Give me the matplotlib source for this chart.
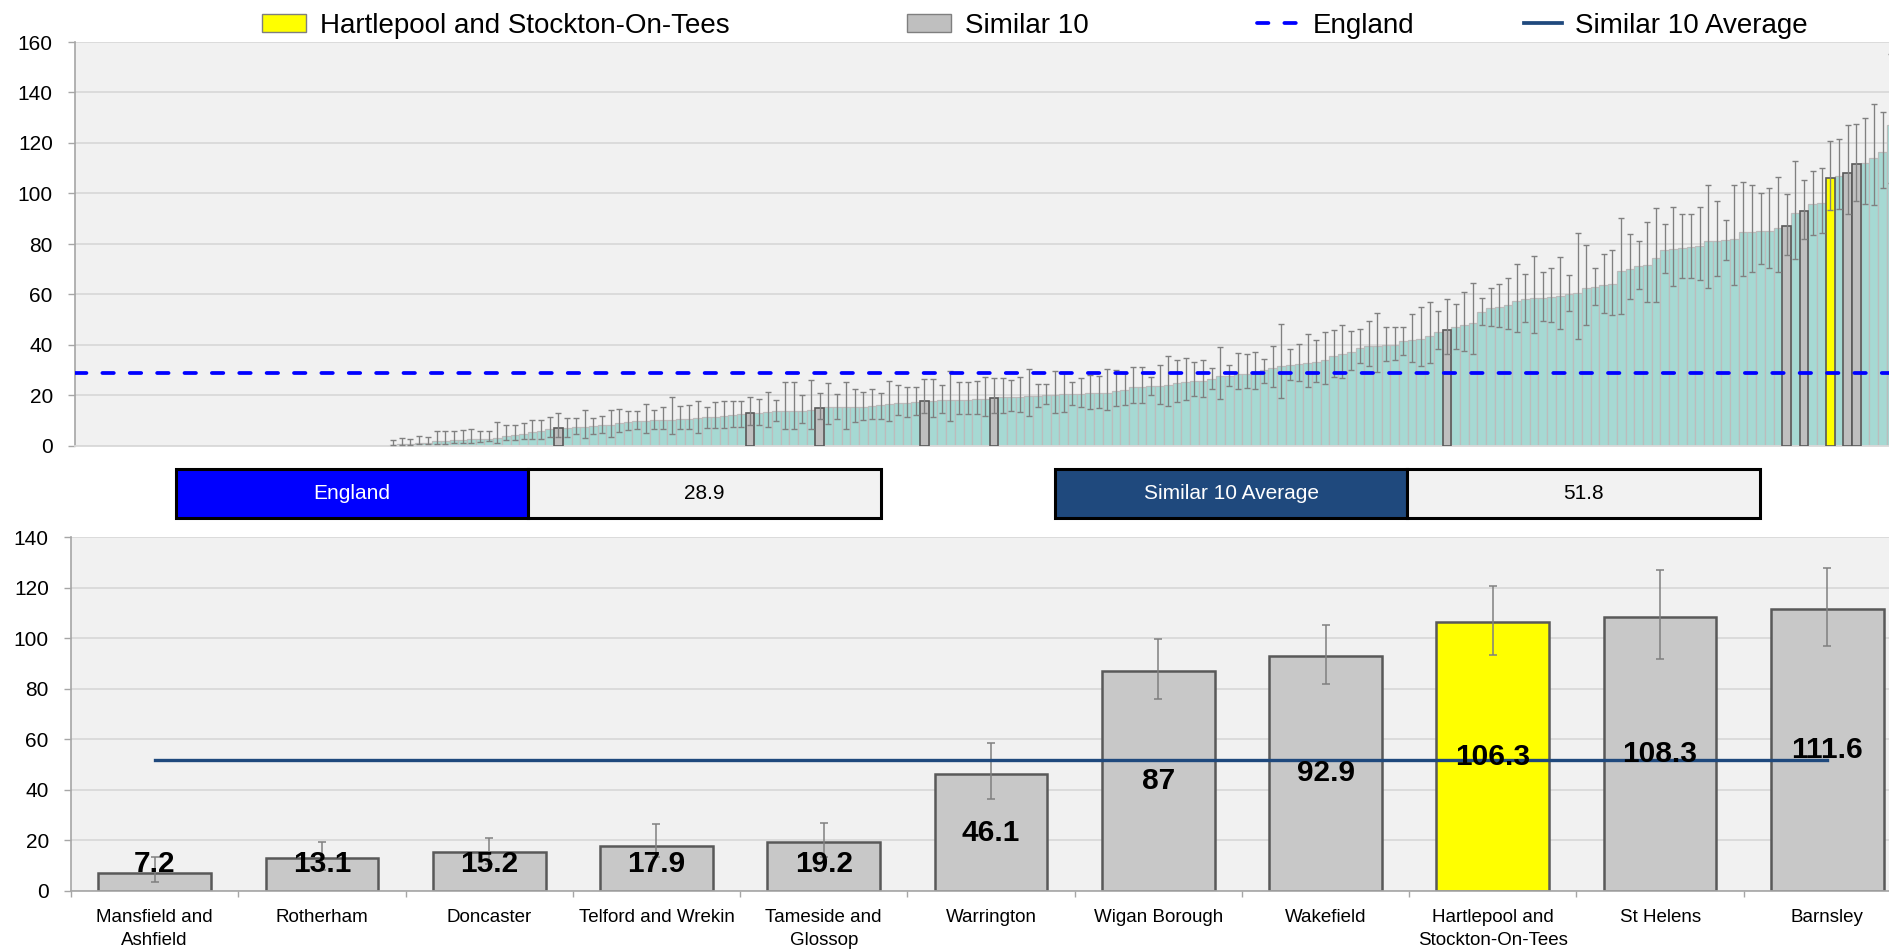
import numpy as np
import matplotlib
matplotlib.use("Agg")
import matplotlib.pyplot as plt
from matplotlib.patches import Rectangle, Patch
from matplotlib.lines import Line2D

plt.rcParams['font.family'] = ['Liberation Sans', 'DejaVu Sans']

# ---------------- data ----------------
host_name = "Hartlepool and Stockton-On-Tees"
england_value = 28.9
similar_avg = 51.8

similar_names = ["Mansfield and\nAshfield", "Rotherham", "Doncaster", "Telford and Wrekin",
                 "Tameside and\nGlossop", "Warrington", "Wigan Borough", "Wakefield",
                 "Hartlepool and\nStockton-On-Tees", "St Helens", "Barnsley"]
similar_values = [7.2, 13.1, 15.2, 17.9, 19.2, 46.1, 87, 92.9, 106.3, 108.3, 111.6]
similar_lower = [3.6, 8.3, 10.6, 13.2, 13.2, 36.3, 75.8, 81.8, 93.3, 91.7, 97.0]
similar_upper = [13.2, 19.4, 21.0, 26.5, 27.0, 58.4, 99.9, 105.2, 120.7, 127.0, 127.7]
host_value = 106.3

# all areas, ranked (0 = no value shown)
top_values = [
    0, 0, 0, 0, 0, 0, 0, 0, 0, 0, 0, 0, 0, 0, 0, 0, 0, 0,
    0, 0, 0, 0, 0, 0, 0, 0, 0, 0, 0, 0, 0, 0, 0, 0, 0, 0,
    0.5, 0.7, 0.8, 1.1, 1.2, 1.8, 2.1, 2.2, 2.5, 2.6,
    2.8, 2.9, 3.3, 4.1, 4.2, 4.9, 5.4, 6.1, 6.7, 7.2,
    7.3, 7.4, 7.7, 7.8, 8.2, 8.4, 9.0, 9.5, 9.8, 9.9,
    10.2, 10.3, 10.4, 10.6, 10.8, 11.2, 11.5, 11.6, 11.9, 12.3,
    12.5, 13.1, 13.2, 13.5, 13.7, 13.7, 13.8, 13.9, 14.1, 15.2,
    15.3, 15.4, 15.5, 15.5, 15.6, 15.8, 16.1, 16.5, 16.9, 17.1,
    17.5, 17.9, 18.0, 18.1, 18.2, 18.3, 18.4, 18.5, 18.6, 19.2,
    19.3, 19.4, 19.5, 19.7, 19.9, 20.2, 20.3, 20.4, 20.6, 20.7,
    20.8, 20.9, 21.1, 21.8, 22.0, 23.2, 23.5, 23.6, 23.7, 24.1,
    24.8, 25.5, 25.7, 25.8, 26.4, 27.6, 27.7, 28.5, 28.6, 29.0,
    30.1, 31.0, 31.7, 32.2, 32.6, 32.7, 33.2, 33.9, 35.6, 36.3,
    37.3, 39.0, 39.7, 39.8, 40.0, 40.1, 41.4, 41.9, 42.5, 43.7,
    45.2, 46.1, 47.0, 48.1, 48.8, 53.2, 54.5, 55.1, 55.8, 57.5,
    58.4, 58.7, 58.8, 59.1, 59.4, 60.2, 60.4, 62.4, 63.1, 63.7,
    64.0, 69.4, 70.2, 71.4, 71.6, 74.3, 77.8, 78.0, 78.5, 78.7,
    79.1, 81.0, 81.1, 81.4, 82.0, 84.6, 84.8, 85.2, 85.3, 86.3,
    87.0, 92.1, 92.9, 95.8, 96.4, 106.3, 107.0, 108.3, 111.6, 112.1,
    114.2, 116.5, 127.0, 135.0, 150.0]
top_upper = [
    0, 0, 0, 0, 0, 0, 0, 0, 0, 0, 0, 0, 0, 0, 0, 0, 0, 0,
    0, 0, 0, 0, 0, 0, 0, 0, 0, 0, 0, 0, 0, 0, 0, 0, 0, 0,
    2.4, 3.0, 2.6, 4.1, 3.6, 6.1, 6.1, 5.8, 6.3, 6.6,
    6.1, 6.1, 9.6, 8.2, 8.4, 9.2, 10.3, 10.3, 11.5, 13.2,
    11.1, 10.9, 14.1, 10.9, 11.9, 14.2, 14.8, 13.9, 13.9, 16.6,
    14.4, 15.6, 19.4, 15.7, 16.4, 17.8, 15.6, 17.3, 17.8, 17.7,
    17.7, 19.4, 18.7, 21.2, 18.3, 25.3, 25.3, 20.3, 26.0, 21.0,
    25.1, 20.7, 25.5, 22.4, 21.4, 22.4, 21.1, 25.9, 24.1, 23.5,
    23.2, 26.5, 26.4, 24.1, 29.8, 25.3, 25.5, 25.7, 27.4, 27.0,
    26.8, 26.2, 27.2, 30.5, 24.5, 24.4, 29.8, 28.8, 25.2, 26.8,
    28.1, 27.7, 30.3, 30.1, 28.8, 31.1, 31.4, 27.2, 32.2, 35.7,
    33.9, 34.8, 33.1, 34.2, 30.7, 39.3, 32.2, 36.8, 36.5, 37.3,
    34.6, 39.6, 48.5, 38.6, 40.5, 44.3, 42.1, 45.2, 46.0, 47.9,
    45.5, 46.2, 49.5, 52.8, 47.2, 47.2, 47.2, 52.1, 55.1, 56.9,
    53.4, 58.4, 56.1, 61.1, 64.6, 58.8, 62.5, 64.1, 66.5, 72.0,
    68.3, 75.3, 69.1, 70.6, 74.9, 67.8, 84.3, 79.5, 70.4, 76.2,
    77.7, 90.1, 84.0, 81.1, 88.8, 94.4, 88.1, 94.8, 91.7, 91.9,
    94.7, 103.2, 97.0, 89.4, 103.4, 104.6, 103.2, 100.0, 102.1, 106.7,
    99.9, 113.0, 105.2, 109.1, 110.0, 120.7, 121.6, 127.0, 127.7, 129.8,
    135.6, 132.4, 155.4, 160.0, 175.0]
top_lower = [
    0, 0, 0, 0, 0, 0, 0, 0, 0, 0, 0, 0, 0, 0, 0, 0, 0, 0,
    0, 0, 0, 0, 0, 0, 0, 0, 0, 0, 0, 0, 0, 0, 0, 0, 0, 0,
    0.3, 0.5, 0.5, 0.7, 0.8, 0.9, 0.9, 1.2, 1.3, 1.3,
    1.7, 1.8, 1.1, 2.4, 2.4, 2.9, 2.9, 2.9, 3.6, 3.6,
    3.7, 4.7, 3.3, 4.9, 5.1, 3.6, 5.4, 6.3, 6.6, 5.3,
    6.6, 6.9, 4.7, 6.6, 6.9, 5.3, 7.0, 7.0, 7.3, 7.4,
    7.4, 8.3, 8.3, 7.4, 10.0, 6.6, 6.6, 9.2, 6.6, 10.6,
    8.7, 10.6, 6.9, 9.6, 10.3, 10.8, 10.8, 10.0, 12.1, 11.6,
    12.4, 13.2, 11.6, 12.9, 10.0, 12.7, 12.7, 12.7, 11.9, 13.2,
    13.2, 13.7, 13.5, 11.9, 15.6, 16.5, 12.9, 13.6, 16.1, 15.6,
    14.5, 14.9, 14.1, 15.8, 16.2, 16.9, 17.1, 20.0, 16.8, 15.7,
    17.5, 18.2, 19.8, 19.3, 22.4, 18.6, 23.7, 22.7, 22.8, 22.4,
    25.1, 23.5, 19.1, 26.0, 25.7, 23.2, 25.3, 24.5, 27.2, 26.9,
    30.1, 32.7, 31.8, 29.4, 33.5, 34.0, 36.0, 33.4, 31.7, 33.0,
    38.3, 36.3, 38.5, 37.6, 36.4, 47.8, 47.4, 47.2, 46.4, 45.1,
    49.2, 44.6, 49.6, 49.2, 46.3, 53.3, 42.2, 48.1, 55.9, 52.8,
    51.8, 52.2, 58.2, 62.3, 57.2, 57.1, 68.6, 63.3, 66.6, 66.7,
    65.7, 62.5, 67.3, 73.6, 63.8, 67.5, 69.1, 72.2, 70.6, 68.9,
    75.8, 73.9, 81.8, 83.5, 84.2, 93.3, 93.8, 91.7, 97.0, 96.0,
    95.5, 102.0, 104.0, 112.0, 125.0]

# ---------------- styles ----------------
W, H = 1889, 950
BG = '#f1f1f1'
GRID = '#d9d9d9'
AXC = '#a6a6a6'
TEAL = '#a6d9d3'
GRAY_TOP = '#bfbfbf'
GRAY_BOT = '#c8c8c8'
YELLOW = '#ffff00'
EDGE = '#595959'
ERR = '#808080'
ENG_BLUE = '#0000ff'
AVG_BLUE = '#1f497d'


def fx(px):
    return px / W


def fy(py):
    return 1 - py / H


fig = plt.figure(figsize=(W / 100, H / 100), dpi=100)

# ---------------- top panel ----------------
ax1 = fig.add_axes([fx(75), fy(446), (1913 - 75) / W, (446 - 42) / H])
ax1.set_facecolor(BG)
vals = np.array(top_values, float)
lo = np.array(top_lower, float)
hi = np.array(top_upper, float)
xs = np.arange(len(vals))
shown = vals > 0

ax1.bar(xs[shown], vals[shown], width=1.0, color=TEAL, edgecolor='#bcbcbc',
        linewidth=0.9, zorder=2)
for xi, v in zip(xs[shown], vals[shown]):
    if np.isclose(v, host_value):
        ax1.bar(xi, v, width=1.0, color=YELLOW, edgecolor=EDGE, linewidth=1.2, zorder=3)
    elif any(np.isclose(v, s) for s in similar_values):
        ax1.bar(xi, v, width=1.0, color=GRAY_TOP, edgecolor=EDGE, linewidth=1.2, zorder=3)
ax1.errorbar(xs[shown], vals[shown],
             yerr=[vals[shown] - lo[shown], hi[shown] - vals[shown]],
             fmt='none', ecolor=ERR, elinewidth=0.95, capsize=2.5, capthick=1.0, zorder=4)
ax1.axhline(england_value, color=ENG_BLUE, lw=2.7, linestyle=(0, (3.05, 4.25)),
            dash_capstyle='round', zorder=5)

ax1.set_xlim(-0.5, len(vals) - 0.5)
ax1.set_ylim(0, 160)
ax1.set_yticks(np.arange(0, 161, 20))
ax1.set_xticks([])
ax1.grid(axis='y', color=GRID, linewidth=1.3, zorder=0)
ax1.set_axisbelow(True)
for s in ['top', 'right']:
    ax1.spines[s].set_visible(False)
ax1.spines['left'].set_color(AXC)
ax1.spines['left'].set_linewidth(1.2)
ax1.spines['bottom'].set_color(GRID)
ax1.spines['bottom'].set_linewidth(1.3)
ax1.tick_params(axis='y', direction='out', length=5, width=1.0, color=AXC,
                labelsize=15, pad=11)

# ---------------- legend ----------------
leg_y = fy(26)
fs = 20
common = dict(frameon=False, fontsize=fs, borderpad=0, borderaxespad=0,
              handletextpad=0.5, loc='center left')
fig.legend(handles=[Patch(facecolor=YELLOW, edgecolor='#7f7f7f', label=host_name)],
           bbox_to_anchor=(fx(262), leg_y), handlelength=1.58, handleheight=0.62, **common)
fig.legend(handles=[Patch(facecolor=GRAY_TOP, edgecolor='#7f7f7f', label='Similar 10')],
           bbox_to_anchor=(fx(907), leg_y), handlelength=1.58, handleheight=0.62, **common)
fig.legend(handles=[Line2D([], [], color=ENG_BLUE, lw=2.7, linestyle=(0, (3.05, 4.25)),
                           dash_capstyle='round', label='England')],
           bbox_to_anchor=(fx(1257), leg_y), handlelength=1.5, **common)
fig.legend(handles=[Line2D([], [], color=AVG_BLUE, lw=2.7, label='Similar 10 Average')],
           bbox_to_anchor=(fx(1524), leg_y), handlelength=1.35, **common)

# ---------------- value boxes ----------------
def value_box(x0, x1, x2, label, value, color):
    yb, yt = 518, 469
    fig.add_artist(Rectangle((fx(x0), fy(yb)), (x1 - x0) / W, (yb - yt) / H,
                             transform=fig.transFigure, facecolor=color,
                             edgecolor='black', linewidth=2.2))
    fig.add_artist(Rectangle((fx(x1), fy(yb)), (x2 - x1) / W, (yb - yt) / H,
                             transform=fig.transFigure, facecolor='#f2f2f2',
                             edgecolor='black', linewidth=2.2))
    ym = fy((yb + yt) / 2)
    fig.text(fx((x0 + x1) / 2), ym, label, color='white', fontsize=15,
             ha='center', va='center')
    fig.text(fx((x1 + x2) / 2), ym, f"{value:g}", color='black', fontsize=15,
             ha='center', va='center')


value_box(176, 528, 881, 'England', england_value, ENG_BLUE)
value_box(1055, 1407, 1760, 'Similar 10 Average', similar_avg, AVG_BLUE)

# ---------------- bottom panel ----------------
ax2 = fig.add_axes([fx(71), fy(890.7), 1840 / W, (890.7 - 537.3) / H])
ax2.set_facecolor(BG)
sv = np.array(similar_values, float)
sl = np.array(similar_lower, float)
su = np.array(similar_upper, float)
bx = np.arange(len(sv))
bcolors = [YELLOW if np.isclose(v, host_value) else GRAY_BOT for v in sv]
ax2.bar(bx, sv, width=0.674, color=bcolors, edgecolor=EDGE, linewidth=1.8, zorder=2)
ax2.errorbar(bx, sv, yerr=[sv - sl, su - sv], fmt='none', ecolor=ERR,
             elinewidth=1.1, capsize=2.9, capthick=1.1, zorder=3)
ax2.plot([bx[0], bx[-1]], [similar_avg, similar_avg], color=AVG_BLUE, lw=2.4, zorder=4)
for xi, v in zip(bx, sv):
    ax2.text(xi, max(v / 2, 10.7), f"{v:g}", ha='center', va='center',
             fontsize=21.5, fontweight='bold', color='black', zorder=6)

ax2.set_xlim(-0.5, len(sv) - 0.5)
ax2.set_ylim(0, 140)
ax2.set_yticks(np.arange(0, 141, 20))
ax2.set_xticks(bx)
ax2.set_xticklabels(similar_names, fontsize=13.5, linespacing=1.45)
ax2.set_xticks(np.arange(-0.5, len(sv)), minor=True)
ax2.tick_params(axis='x', which='major', length=0, pad=13)
ax2.tick_params(axis='x', which='minor', length=4.5, width=1.0, color=AXC)
ax2.tick_params(axis='y', direction='out', length=5, width=1.0, color=AXC,
                labelsize=15, pad=11)
ax2.grid(axis='y', color=GRID, linewidth=1.3, zorder=0)
ax2.set_axisbelow(True)
for s in ['top', 'right']:
    ax2.spines[s].set_visible(False)
for s in ['left', 'bottom']:
    ax2.spines[s].set_color(AXC)
    ax2.spines[s].set_linewidth(1.2)

fig.savefig('out.png', dpi=100, facecolor='white')
